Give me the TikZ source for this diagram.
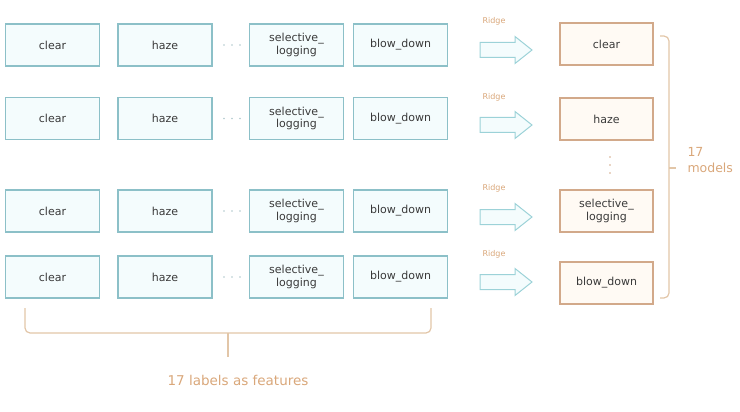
\documentclass[tikz,border=0pt]{standalone}
\usepackage{fontspec}
\setmainfont{DejaVu Sans}
\definecolor{tealline}{HTML}{8CC0C8}
\definecolor{tealfill}{HTML}{F4FCFD}
\definecolor{orline}{HTML}{D2A98A}
\definecolor{orfill}{HTML}{FFFAF4}
\definecolor{txt}{HTML}{3A3A3A}
\definecolor{ortxt}{HTML}{D9A77A}
\definecolor{brk}{HTML}{E2C6A8}
\definecolor{arrline}{HTML}{9CD2D8}
\definecolor{dotc}{HTML}{B0C8CC}
\begin{document}
\begin{tikzpicture}[x=1pt,y=-1pt,
  featbox/.style={draw=tealline,line width=1.6pt,fill=tealfill,minimum width=94pt,minimum height=42pt,inner sep=1pt,
    font=\fontsize{11}{12.5}\selectfont,text=txt,align=center},
  modbox/.style={draw=orline,line width=1.6pt,fill=orfill,minimum width=93pt,minimum height=42pt,inner sep=1pt,
    font=\fontsize{11}{12.5}\selectfont,text=txt,align=center},
  ridgearrow/.style={draw=arrline,line width=1pt,fill=tealfill,line join=miter},
  ridgelbl/.style={font=\fontsize{8}{9}\selectfont,text=ortxt},
  dotfill/.style={fill=dotc,draw=none},
  brace/.style={draw=brk,line width=1.2pt,rounded corners=5pt}
]
\useasboundingbox (0,0) rectangle (740,412);
% feature rows
\foreach \r/\yy in {1/45,2/118.5,3/211,4/277}{
  \node[featbox] (c\r) at (52.5,\yy) {clear};
  \node[featbox] (h\r) at (165,\yy) {haze};
  \foreach \dx in {224,232,240}{\fill[dotfill] (\dx,\yy) circle (0.9pt);}
  \node[featbox] (s\r) at (296.5,\yy) {selective\_\\logging};
  \node[featbox] (b\r) at (400.5,\yy) {blow\_down};
}
% arrows and Ridge labels
\foreach \r/\yy in {1/50,2/125,3/217,4/282}{
  \coordinate (a\r) at (480,\yy);
  \draw[ridgearrow] (a\r) ++(0,-7.5) -- ++(35,0) -- ++(0,-6) -- ++(17,13.5) -- ++(-17,13.5) -- ++(0,-6) -- ++(-35,0) -- cycle;
}
\node[ridgelbl] (r1) at (494,21) {Ridge};
\node[ridgelbl] (r2) at (494,97) {Ridge};
\node[ridgelbl] (r3) at (494,188) {Ridge};
\node[ridgelbl] (r4) at (494,254) {Ridge};
% model boxes
\node[modbox] (m1) at (606.5,44) {clear};
\node[modbox] (m2) at (606.5,119) {haze};
\node[modbox] (m3) at (606.5,211) {selective\_\\logging};
\node[modbox] (m4) at (606.5,283) {blow\_down};
\foreach \yy in {157,165,173}{\fill[fill=orline] (610,\yy) circle (0.9pt);}
% right bracket
\coordinate (rbt) at (660,36);
\coordinate (rbb) at (660,298);
\coordinate (rbm) at (676,168);
\draw[brace] (rbt) -- (669,36) -- (669,298) -- (rbb);
\draw[draw=brk,line width=1.2pt] (669,168) -- (rbm);
\node[font=\fontsize{12.5}{16}\selectfont,text=ortxt,align=left,anchor=west] (models) at (684,160) {17\\models};
% bottom brace
\coordinate (bl) at (25,308);
\coordinate (br) at (431,308);
\coordinate (bm) at (228,357);
\draw[brace] (bl) -- (25,333) -- (431,333) -- (br);
\draw[draw=brk,line width=1.2pt] (228,333) -- (bm);
\node[font=\fontsize{13.5}{15}\selectfont,text=ortxt] (feat) at (238,380) {17 labels as features};
\end{tikzpicture}
\end{document}
